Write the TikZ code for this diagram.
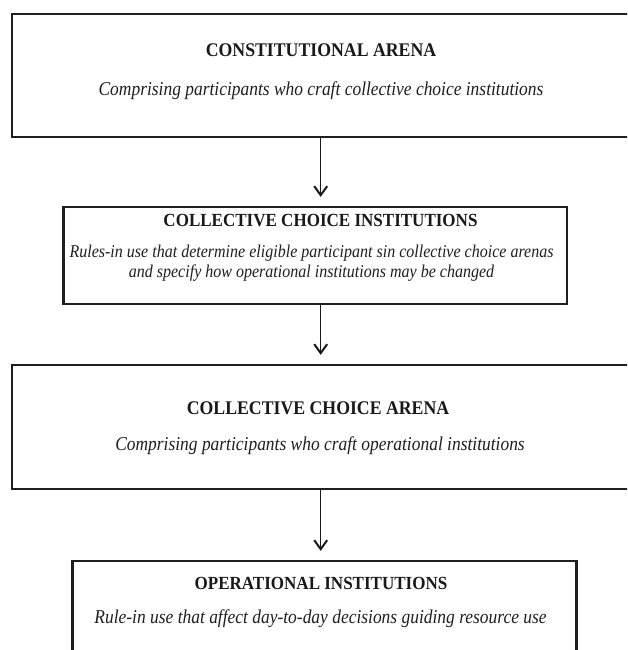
\documentclass[tikz,border=0pt]{standalone}
\usepackage{fontspec}
\setmainfont{Liberation Serif}
\newfontfamily\subfam[FakeStretch=0.89]{Liberation Serif}
\newfontfamily\ttlfam[FakeStretch=0.92]{Liberation Serif}
\usetikzlibrary{arrows.meta}
\tikzset{
  box/.style={draw=black!88, line width=2.3pt, rectangle, inner sep=0pt},
  ttl/.style={font=\ttlfam\fontsize{18.5}{20}\selectfont\bfseries, text=black!90, inner sep=0pt},
  bigttl/.style={font=\ttlfam\fontsize{19.3}{21}\selectfont\bfseries, text=black!90, inner sep=0pt},
  sub/.style={font=\subfam\fontsize{18}{20}\selectfont\itshape, text=black!88, inner sep=0pt, align=center},
  bigsub/.style={font=\subfam\fontsize{19.6}{22}\selectfont\itshape, text=black!88, inner sep=0pt, align=center},
  arr/.style={line width=1.2pt, draw=black!90, -{Straight Barb[length=9pt,width=13pt,line width=2pt]}}
}
\begin{document}
\begin{tikzpicture}[x=1pt,y=-1pt]
\clip (0,0) rectangle (627,650);
\fill[white] (0,0) rectangle (627,650);
% boxes
\node[box, minimum width=627.5pt, minimum height=123pt] (b1) at (326,75.5) {};
\node[box, minimum width=503.5pt, minimum height=97pt] (b2) at (315.25,255.5) {};
\node[box, minimum width=627.5pt, minimum height=124pt] (b3) at (326,427) {};
\node[box, minimum width=504pt, minimum height=119pt] (b4) at (324.5,620.5) {};
% texts
\node[bigttl] (t1) at (321,50) {CONSTITUTIONAL ARENA};
\node[bigsub] (s1) at (321,91) {Comprising participants who craft collective choice institutions};
\node[ttl] (t2) at (320.5,221) {COLLECTIVE CHOICE INSTITUTIONS};
\node[sub] (s2) at (311.5,263) {Rules-in use that determine eligible participant sin collective choice arenas\\and specify how operational institutions may be changed};
\node[bigttl] (t3) at (318,408) {COLLECTIVE CHOICE ARENA};
\node[bigsub] (s3) at (320,446) {Comprising participants who craft operational institutions};
\node[ttl] (t4) at (321,583) {OPERATIONAL INSTITUTIONS};
\node[bigsub] (s4) at (320.5,619) {Rule-in use that affect day-to-day decisions guiding resource use};
% arrows
\coordinate (ax) at (320.7,0);
\draw[arr, shorten >=9pt] (b1.south -| ax) -- (b2.north -| ax);
\draw[arr, shorten >=9pt, shorten <=-2pt] (b2.south -| ax) -- (b3.north -| ax);
\draw[arr, shorten >=9pt] (b3.south -| ax) -- (b4.north -| ax);
\end{tikzpicture}
\end{document}
